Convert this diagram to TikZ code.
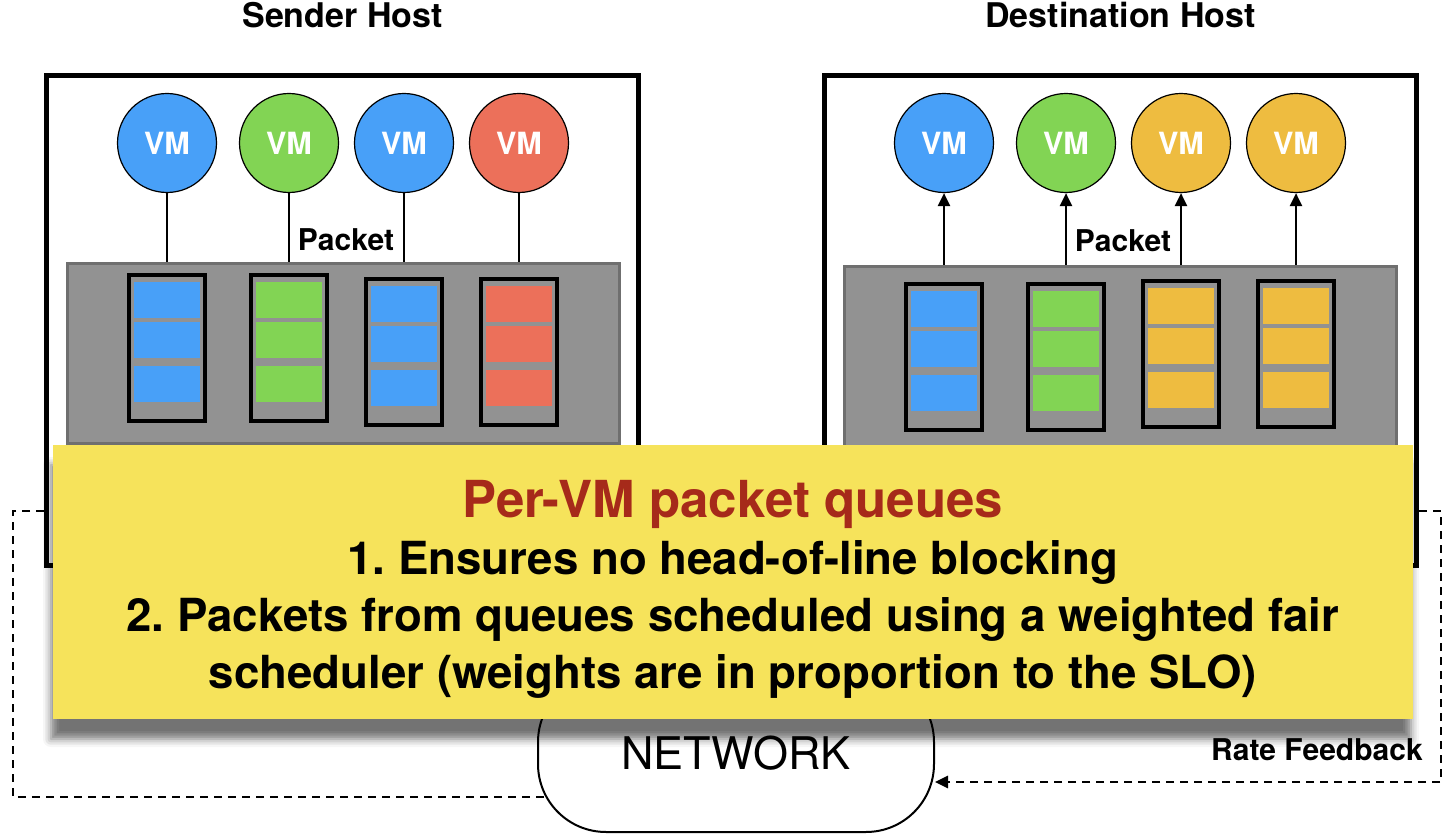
\documentclass[tikz,border=0pt]{standalone}
\usepackage{fontspec}
\setmainfont{TeX Gyre Heros}
\usetikzlibrary{positioning,arrows.meta,shadows.blur}
\definecolor{vmblue}{HTML}{48A0F8}
\definecolor{vmgreen}{HTML}{82D454}
\definecolor{vmred}{HTML}{EC705A}
\definecolor{vmgold}{HTML}{EEBC40}
\definecolor{panelgray}{HTML}{929292}
\definecolor{panelborder}{HTML}{6F6F6F}
\definecolor{noteyellow}{HTML}{F6E35B}
\definecolor{titlered}{HTML}{A62A1A}
\frenchspacing

\begin{document}
\begin{tikzpicture}[x=0.5pt,y=-0.5pt,on grid,>={Triangle[width=6pt,length=6.5pt]},
   host/.style={draw,line width=2.5pt,minimum width=296pt,minimum height=245pt,inner sep=0pt},
   hosttitle/.style={font=\fontsize{17}{20}\selectfont\bfseries},
   panel/.style={draw=panelborder,fill=panelgray,line width=1.5pt,minimum width=276pt,minimum height=90pt,inner sep=0pt},
   vm/.style={circle,draw,line width=0.6pt,minimum size=49.5pt,inner sep=0pt,text=white,font=\fontsize{15.3}{18}\selectfont\bfseries},
   queue/.style={draw,line width=2pt,fill=panelgray,minimum width=38pt,minimum height=73pt,inner sep=0pt,
      path picture={
         \fill[#1] ([xshift=2.5pt,yshift=-3.5pt]path picture bounding box.north west) rectangle ++(33pt,-18pt);
         \fill[#1] ([xshift=2.5pt,yshift=-23.5pt]path picture bounding box.north west) rectangle ++(33pt,-18pt);
         \fill[#1] ([xshift=2.5pt,yshift=-45.5pt]path picture bounding box.north west) rectangle ++(33pt,-18pt);
      }},
   lbl/.style={font=\fontsize{15}{18}\selectfont\bfseries},
   wire/.style={line width=1.1pt},
   netcloud/.style={draw,line width=1pt,rounded corners=34pt,minimum width=198pt,minimum height=79pt,font=\fontsize{22.5}{26}\selectfont},
   fb/.style={line width=1.4pt,dash pattern=on 4pt off 3pt},
   fblbl/.style={font=\fontsize{15}{18}\selectfont\bfseries},
   note/.style={fill=noteyellow,minimum width=680pt,minimum height=137pt,inner sep=0pt,
      blur shadow={shadow xshift=-1pt,shadow yshift=-10pt,shadow blur radius=4pt,shadow opacity=55}},
   notetext/.style={align=center,font=\fontsize{22.8}{28.5}\selectfont\bfseries}]
   \useasboundingbox (0,0) rectangle (1452,834);
   % hosts
   \node[host] (sendhost) at (342.5,320.5) {};
   \node[host] (desthost) at (1120.5,320.5) {};
   \node[hosttitle] (sendtitle) [above=19pt of sendhost.north] {Sender Host};
   \node[hosttitle] (desttitle) [above=19pt of desthost.north] {Destination Host};
   \node[panel] (panels) at (343.5,353.5) {};
   \node[panel] (paneld) at (1120.5,356.5) {};
   % VMs
   \node[vm,fill=vmblue] (vs1) at (167,143) {VM};
   \node[vm,fill=vmgreen] (vs2) [right=61pt of vs1] {VM};
   \node[vm,fill=vmblue] (vs3) [right=57.5pt of vs2] {VM};
   \node[vm,fill=vmred] (vs4) [right=57.5pt of vs3] {VM};
   \node[vm,fill=vmblue] (vd1) at (944,143) {VM};
   \node[vm,fill=vmgreen] (vd2) [right=61pt of vd1] {VM};
   \node[vm,fill=vmgold] (vd3) [right=57.5pt of vd2] {VM};
   \node[vm,fill=vmgold] (vd4) [right=57.5pt of vd3] {VM};
   % queues
   \node[queue=vmblue] (qs1) [below=102.5pt of vs1] {};
   \node[queue=vmgreen] (qs2) [below=102.5pt of vs2] {};
   \node[queue=vmblue] (qs3) [below=104.5pt of vs3] {};
   \node[queue=vmred] (qs4) [below=104.5pt of vs4] {};
   \node[queue=vmblue] (qd1) [below=107pt of vd1] {};
   \node[queue=vmgreen] (qd2) [below=107pt of vd2] {};
   \node[queue=vmgold] (qd3) [below=105.5pt of vd3] {};
   \node[queue=vmgold] (qd4) [below=105.5pt of vd4] {};
   \node[lbl] (pkts) at (346,240) {Packet};
   \node[lbl] (pktd) at (1123,241) {Packet};
   \path[wire]
    (vs1) edge (vs1 |- panels.north)
    (vs2) edge (vs2 |- panels.north)
    (vs3) edge (vs3 |- panels.north)
    (vs4) edge (vs4 |- panels.north);
   \path[wire,->]
    (vd1 |- paneld.north) edge (vd1)
    (vd2 |- paneld.north) edge (vd2)
    (vd3 |- paneld.north) edge (vd3)
    (vd4 |- paneld.north) edge (vd4);
   % network and feedback
   \node[netcloud] (net) at (736,753) {NETWORK};
   \coordinate (fbl) at (548,797);
   \coordinate (fbr) at (935,782);
   \draw[fb] ([yshift=-95.25pt]sendhost.west) -- ++(-31,0) |- (fbl);
   \draw[fb,->] ([yshift=-95.25pt]desthost.east) -- ++(22,0) |- (fbr);
   \node[fblbl] (ratefb) at (1317,750) {Rate Feedback};
   % note
   \node[note] (pvq) at (733,582) {};
   \node[notetext] (pvqtext) at (733,589) {{\color{titlered}\fontsize{25.5}{30}\selectfont Per-VM packet queues}\\
      1. Ensures no head-of-line blocking\\
      2. Packets from queues scheduled using a weighted fair\\
      scheduler (weights are in proportion to the SLO)};
\end{tikzpicture}
\end{document}
